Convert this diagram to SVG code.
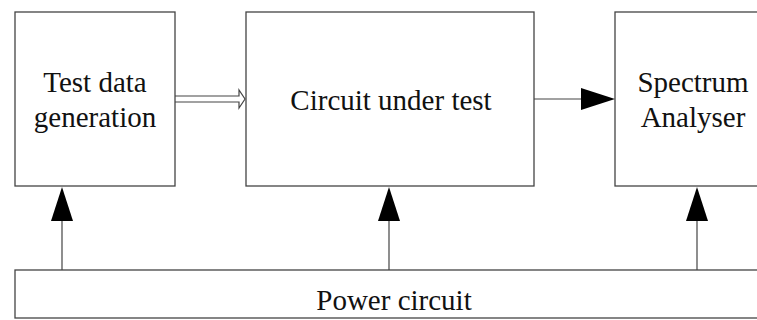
<svg xmlns="http://www.w3.org/2000/svg" width="757" height="320" viewBox="0 0 757 320">
<style>
.box{fill:#fff;stroke:#444;stroke-width:1.3}
.lbl{font-family:"Liberation Serif","Times New Roman",serif;font-size:29px;fill:#111;text-anchor:middle}
.ln{stroke:#444;stroke-width:1.2;fill:none}
.hd{fill:#000;stroke:none}
</style>
<rect width="757" height="320" fill="#fff"/>
<g id="test-data-generation">
<rect class="box" x="15" y="12" width="160" height="174"/>
<text class="lbl" x="95" y="92">Test data</text>
<text class="lbl" x="95" y="127">generation</text>
</g>
<g id="circuit-under-test">
<rect class="box" x="246" y="12" width="288" height="174"/>
<text class="lbl" x="391" y="110">Circuit under test</text>
</g>
<g id="spectrum-analyser">
<rect class="box" x="615" y="12" width="160" height="174"/>
<text class="lbl" x="693" y="92">Spectrum</text>
<text class="lbl" x="693" y="127">Analyser</text>
</g>
<g id="power-circuit">
<rect class="box" x="15" y="270" width="760" height="48"/>
<text class="lbl" x="394" y="310">Power circuit</text>
</g>
<g id="connectors">
<path class="ln" d="M175,96 H239 V90 L245,99 L239,108 V102 H175"/>
<line class="ln" x1="534" y1="99" x2="583" y2="99"/>
<polygon class="hd" points="581,88 615,99 581,110"/>
<line class="ln" x1="62" y1="270" x2="62" y2="219"/>
<polygon class="hd" points="51,221 62,187 73,221"/>
<line class="ln" x1="389" y1="270" x2="389" y2="219"/>
<polygon class="hd" points="378,221 389,187 400,221"/>
<line class="ln" x1="697" y1="270" x2="697" y2="219"/>
<polygon class="hd" points="686,221 697,187 708,221"/>
</g>
</svg>
